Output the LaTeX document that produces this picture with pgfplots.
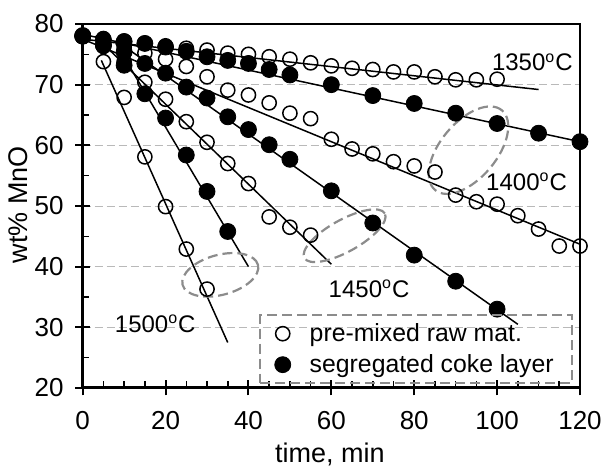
\documentclass[border=0pt]{standalone}
\usepackage{fontspec}
\setmainfont{Liberation Sans}
\usepackage{pgfplots}
\pgfplotsset{compat=1.18}
\definecolor{ellgray}{RGB}{140,140,140}
\begin{document}
\begin{tikzpicture}
\begin{axis}[
  name=ax,
  scale only axis,
  width=248.65pt, height=182pt,
  xmin=0, xmax=120, ymin=20, ymax=80,
  clip=false,
  xtick={0,20,...,120}, ytick={20,30,...,80},
  minor x tick num=3, minor y tick num=1,
  xtick pos=bottom, ytick pos=left,
  tick align=inside,
  major tick length=7.5pt, minor tick length=3.3pt,
  every major x tick/.append style={yshift=-3.75pt, line width=1pt, black},
  every major y tick/.append style={xshift=-3.75pt, line width=1pt, black},
  every minor tick/.append style={line width=0.8pt, black},
  ymajorgrids,
  grid style={dash pattern=on 4pt off 2pt, gray!55, line width=0.5pt},
  axis line style={line width=0.9pt},
  /pgf/number format/assume math mode=true,
  tick label style={font=\fontsize{13}{15}\selectfont},
  xticklabel shift=8pt, yticklabel shift=6pt,
  xlabel={time, min}, ylabel={wt\% MnO},
  label style={font=\fontsize{13.5}{16}\selectfont},
  xlabel style={at={(axis description cs:0.497,-0.206)}, anchor=base},
  ylabel style={at={(axis description cs:-0.11,0.503)}, anchor=base},
  legend style={at={(rel axis cs:0.355,0.203)}, anchor=north west,
    draw=ellgray, line width=1.1pt, dash pattern=on 5pt off 2.5pt, fill=none,
    font=\fontsize{12.4}{14}\selectfont, inner xsep=7.2pt, inner ysep=2pt,
    row sep=1pt,
    /tikz/every odd column/.append style={column sep=7.5pt}},
  legend cell align=left,
  legend image code/.code={\draw[#1, solid] plot coordinates {(0.15cm,0cm)};},
  openm/.style={only marks, mark=o, mark size=3.55pt,
    mark options={solid, draw=black, fill=none, line width=0.75pt}},
  fillm/.style={only marks, mark=*, mark size=4pt,
    mark options={solid, draw=black, fill=black, line width=0.4pt}},
  fitl/.style={black, line width=0.75pt, forget plot},
]
% ---- open circles (pre-mixed raw mat.)
\addplot[openm] coordinates {(0,78.0)(5,77.6)(10,77.2)(15,76.8)(20,76.4)(25,76.0)(30,75.7)(35,75.2)(40,75.0)(45,74.6)(50,74.2)(55,73.6)(60,73.1)(65,72.7)(70,72.5)(75,72.1)(80,72.1)(85,71.3)(90,70.8)(95,70.8)(100,70.9)};
\addlegendentry{pre-mixed raw mat.}
\addplot[openm, forget plot] coordinates {(0,78.0)(5,77.0)(10,76.2)(15,75.2)(20,74.2)(25,73.0)(30,71.3)(35,69.1)(40,68.3)(45,67.0)(50,65.3)(55,64.4)(60,61.0)(65,59.4)(70,58.6)(75,57.3)(80,56.6)(85,55.6)(90,51.8)(95,50.7)(100,50.3)(105,48.4)(110,46.2)(115,43.4)(120,43.4)};
\addplot[openm, forget plot] coordinates {(0,78.0)(5,76.3)(10,73.8)(15,70.4)(20,67.6)(25,63.9)(30,60.5)(35,57.0)(40,53.7)(45,48.2)(50,46.5)(55,45.2)};
\addplot[openm, forget plot] coordinates {(0,78.0)(5,73.8)(10,67.9)(15,58.1)(20,49.9)(25,42.9)(30,36.3)};
% ---- fitted lines
\addplot[fitl] coordinates {(0,77.5)(110,69.2)};
\addplot[fitl] coordinates {(0,78.3)(120,60.6)};
\addplot[fitl] coordinates {(0,77.5)(120,43.7)};
\addplot[fitl] coordinates {(8,77.3)(105,30.5)};
\addplot[fitl] coordinates {(3,78.0)(60,40.4)};
\addplot[fitl] coordinates {(8,76.8)(40,40.0)};
\addplot[fitl] coordinates {(4.5,74.0)(35,27.5)};
% ---- filled circles (segregated coke layer)
\addplot[fillm] coordinates {(0,78.1)(5,77.4)(10,77.1)(15,76.8)(20,76.2)(25,75.5)(30,74.6)(35,74.0)(40,73.5)(45,72.5)(50,71.6)(60,70.0)(70,68.2)(80,66.9)(90,65.3)(100,63.6)(110,62.0)(120,60.6)};
\addlegendentry{segregated coke layer}
\addplot[fillm, forget plot] coordinates {(0,78.0)(5,76.5)(10,75.4)(15,73.5)(20,71.9)(25,69.6)(30,67.8)(35,64.7)(40,62.6)(45,60.1)(50,57.7)(60,52.5)(70,47.2)(80,41.9)(90,37.6)(100,33.0)};
\addplot[fillm, forget plot] coordinates {(0,78.0)(5,76.5)(10,73.2)(15,68.5)(20,64.5)(25,58.4)(30,52.4)(35,45.8)};
% ---- ellipses
\draw[ellgray, line width=1.1pt, dash pattern=on 5pt off 2.5pt, rotate around={50:(axis cs:93.1,59.2)}] (axis cs:93.1,59.2) ellipse [x radius=26pt, y radius=14pt];
\draw[ellgray, line width=1.1pt, dash pattern=on 5pt off 2.5pt, rotate around={29:(axis cs:63.2,45.1)}] (axis cs:63.2,45.1) ellipse [x radius=23pt, y radius=8pt];
\draw[ellgray, line width=1.1pt, dash pattern=on 5pt off 2.5pt, rotate around={15:(axis cs:33.2,38.65)}] (axis cs:33.2,38.65) ellipse [x radius=19.5pt, y radius=10pt];
% ---- temperature labels
\node[font=\fontsize{12}{14}\selectfont] at (axis cs:108.5,73.7) {1350\textsuperscript{o}C};
\node[font=\fontsize{12}{14}\selectfont] at (axis cs:107.1,54.0) {1400\textsuperscript{o}C};
\node[font=\fontsize{12}{14}\selectfont] at (axis cs:69.1,36.3) {1450\textsuperscript{o}C};
\node[font=\fontsize{12}{14}\selectfont] at (axis cs:17.5,30.6) {1500\textsuperscript{o}C};
% ---- heavier left and bottom axis lines
\draw[line width=1.5pt] (rel axis cs:0,1) -- (rel axis cs:0,0) -- (rel axis cs:1,0);
\coordinate (bbA) at ([xshift=-41.35pt,yshift=-39pt]rel axis cs:0,0);
\coordinate (bbB) at ([xshift=11pt,yshift=12pt]rel axis cs:1,1);
\end{axis}
\pgfresetboundingbox
\useasboundingbox (bbA) rectangle (bbB);
\end{tikzpicture}
\end{document}
